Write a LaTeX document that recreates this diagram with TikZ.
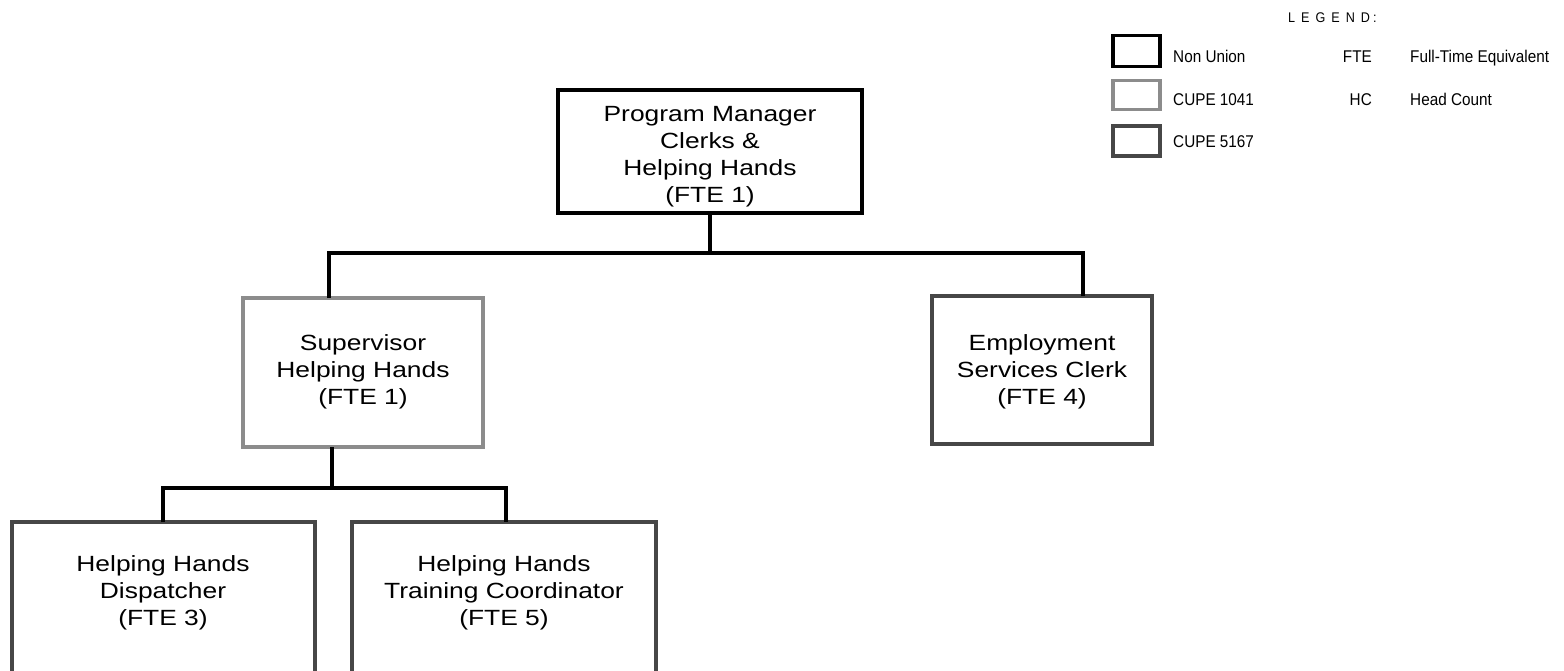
\documentclass[tikz,border=0pt]{standalone}
\usepackage{fontspec}
\newfontfamily\mainf{Liberation Sans}[FakeStretch=1.2]
\newfontfamily\legf{Liberation Sans}[FakeStretch=0.9]
\definecolor{cupeAc}{HTML}{8C8C8C}
\definecolor{cupeBc}{HTML}{474747}
\begin{document}
\begin{tikzpicture}[x=1pt,y=-1pt,
  box/.style={draw, rectangle, inner sep=0pt, outer sep=0pt, fill=white},
  nonunion/.style={box, draw=black, line width=3.5pt},
  cupeA/.style={box, draw=cupeAc, line width=3.5pt},
  cupeB/.style={box, draw=cupeBc, line width=3.5pt},
  lbl/.style={align=center, font=\mainf\fontsize{22}{27}\selectfont, inner sep=0pt},
  leg/.style={font=\legf\fontsize{17}{20}\selectfont, inner sep=0pt},
  conn/.style={line width=3.5pt, draw=black}]
\useasboundingbox (0,0) rectangle (1564,670);
\clip (0,0) rectangle (1564,670);
% connectors' joints
\coordinate (jL) at (329,253);
\coordinate (jR) at (1083,253);
\coordinate (k) at (332,488);
\coordinate (kL) at (163,488);
\coordinate (kR) at (506,488);
% boxes
\node[nonunion, minimum width=304pt, minimum height=123pt] (pm) at (710,151.5) {};
\node[cupeA, minimum width=240pt, minimum height=149pt] (sup) at (363,372.5) {};
\node[cupeB, minimum width=220pt, minimum height=148pt] (emp) at (1042,370) {};
\node[cupeB, minimum width=303pt, minimum height=160pt] (disp) at (163.5,602) {};
\node[cupeB, minimum width=304pt, minimum height=160pt] (train) at (504,602) {};
% connectors
\draw[conn] (pm.south) -- (pm.south |- jL);
\draw[conn] (sup.north -| jL) -- (jL) -- (jR) -- (jR |- emp.north);
\draw[conn] (sup.south -| k) -- (k);
\draw[conn] (disp.north -| kL) -- (kL) -- (kR) -- (kR |- train.north);
% texts
\node[lbl] (pmt) at (710,157) {Program Manager\\Clerks \&\\Helping Hands\\(FTE 1)};
\node[lbl] (supt) at (363,372) {Supervisor\\Helping Hands\\(FTE 1)};
\node[lbl] (empt) at (1042,372) {Employment\\Services Clerk\\(FTE 4)};
\node[lbl] (dispt) at (163,593) {Helping Hands\\Dispatcher\\(FTE 3)};
\node[lbl] (traint) at (504,593) {Helping Hands\\Training Coordinator\\(FTE 5)};
% legend
\node[font=\legf\fontsize{14}{16}\selectfont, inner sep=0pt, anchor=base west] (legt) at (1288,22)
  {L\kern6pt E\kern6pt G\kern6pt E\kern6pt N\kern6pt D\kern3pt :};
\node[nonunion, minimum width=47pt, minimum height=31pt] (lg1) at (1136.5,51) {};
\node[cupeA, minimum width=47pt, minimum height=29pt] (lg2) at (1136.5,95) {};
\node[cupeB, minimum width=47pt, minimum height=30pt] (lg3) at (1136.5,141) {};
\node[leg, anchor=base west] (lg1t) at (1173,62) {Non Union};
\node[leg, anchor=base west] (lg2t) at (1173,105) {CUPE 1041};
\node[leg, anchor=base west] (lg3t) at (1173,147) {CUPE 5167};
\node[leg, anchor=base east] (fte) at (1372,62) {FTE};
\node[leg, anchor=base east] (hc) at (1372,105) {HC};
\node[leg, anchor=base west] (ftet) at (1410,62) {Full-Time Equivalent};
\node[leg, anchor=base west] (hct) at (1410,105) {Head Count};
\end{tikzpicture}
\end{document}
